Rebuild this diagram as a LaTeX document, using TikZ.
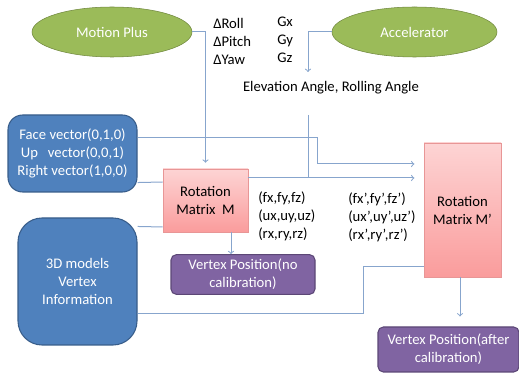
\documentclass[tikz,border=0pt]{standalone}
\usepackage{fontspec}
\setmainfont{Carlito}
\usepackage{xcolor}
\usetikzlibrary{shapes.geometric}
\usetikzlibrary{arrows}
\usetikzlibrary{calc}

\definecolor{sensorfill}{RGB}{155,187,89}
\definecolor{sensoredge}{RGB}{113,137,63}
\definecolor{inputfill}{RGB}{79,129,189}
\definecolor{inputedge}{RGB}{56,93,138}
\definecolor{outputfill}{RGB}{128,100,162}
\definecolor{outputedge}{RGB}{92,71,118}
\definecolor{rottop}{RGB}{253,212,212}
\definecolor{rotbottom}{RGB}{250,156,156}
\definecolor{rotedge}{RGB}{232,150,150}
\definecolor{wire}{RGB}{135,165,205}

\begin{document}
\begin{tikzpicture}[x=0.75pt,y=-0.75pt,
    every node/.style={font=\fontsize{11pt}{13.5pt}\selectfont},
    sensor/.style={ellipse, draw=sensoredge, fill=sensorfill, text=white, minimum height=37.5pt},
    inputbox/.style={draw=inputedge, fill=inputfill, text=white, align=center, line width=0.8pt},
    rotbox/.style={draw=rotedge, top color=rottop, bottom color=rotbottom, align=center},
    outbox/.style={draw=outputedge, fill=outputfill, text=white, align=center, rounded corners=4pt, line width=0.8pt},
    label/.style={align=left, inner sep=0pt, anchor=west},
    wireline/.style={draw=wire, line width=0.75pt},
    >=to]
      \useasboundingbox (0,0) rectangle (519,374);
      % sensors
      \node[sensor, minimum width=120pt] (motion) at (112,32) {Motion Plus};
      \node[sensor, minimum width=123.75pt] (accel) at (414.5,32) {Accelerator};
      \node[label] (deltas) at (213,41) {ΔRoll\\ΔPitch\\ΔYaw};
      \node[label] (gravity) at (277,40) {Gx\\Gy\\Gz};
      \node (elev) at (331,88) {Elevation Angle, Rolling Angle};
      % inputs
      \node[inputbox, rounded corners=11pt, minimum width=96.75pt, minimum height=57.75pt] (face) at (72.5,153.5)
            {Face vector(0,1,0)\\Up\ \ \ vector(0,0,1)\\Right vector(1,0,0)};
      \node[inputbox, rounded corners=18pt, minimum width=89.25pt, minimum height=95.25pt] (models) at (77.5,281.5)
            {3D models\\Vertex\\Information};
      % rotations
      \node[rotbox, minimum width=63.75pt, minimum height=47.25pt] (rotm) at (205.5,200.5) {Rotation\\Matrix\ \ M};
      \node[rotbox, minimum width=57.75pt, minimum height=100.5pt] (rotmp) at (462.5,210) {Rotation\\Matrix M'};
      \node[label] (axes) at (258,216) {(fx,fy,fz)\\(ux,uy,uz)\\(rx,ry,rz)};
      \node[label] (axesp) at (348,217) {(fx',fy',fz')\\(ux',uy',uz')\\(rx',ry',rz')};
      % outputs
      \node[outbox, minimum width=108pt, minimum height=24.75pt] (plain) at (243,274.5) {Vertex Position(no\\calibration)};
      \node[outbox, minimum width=105.75pt, minimum height=33.75pt] (calib) at (448.5,349.5) {Vertex Position(after\\calibration)};
      \coordinate (elevin) at (308,72);
      \coordinate (elevout) at (308,115);
      \coordinate (join) at (308,178);
      \coordinate (facebend) at (317,164);
      \coordinate (modelbend) at (363,267);
      % connectors
      \draw[wireline, ->, shorten >=4.5pt] (motion.east) -| (rotm.north);
      \draw[wireline, ->] (accel.west) -| (elevin);
      \draw[wireline] (elevout) -- (join);
      \draw[wireline, ->, shorten >=7pt] (rotm.east |- join) -- (rotmp.west |- join);
      \draw[wireline, ->, shorten >=7pt] ($(face.north east)+(0,23)$) -| (facebend) -- (rotmp.west |- facebend);
      \draw[wireline] ($(face.south east)+(0,-10)$) -- (rotm.west |- 0,182);
      \draw[wireline] ($(models.north east)+(0,9)$) -- (rotm.west |- 0,227);
      \draw[wireline] ($(models.south east)+(0,-32)$) -| (modelbend) -- (rotmp.west |- modelbend);
      \draw[wireline, ->] ($(rotm.south)+(25.5,0)$) -- (plain.north -| 231,0);
      \draw[wireline, ->, shorten >=7.5pt] ($(rotmp.south)+(-2.5,0)$) -- (calib.north -| 460,0);
    \end{tikzpicture}
\end{document}
